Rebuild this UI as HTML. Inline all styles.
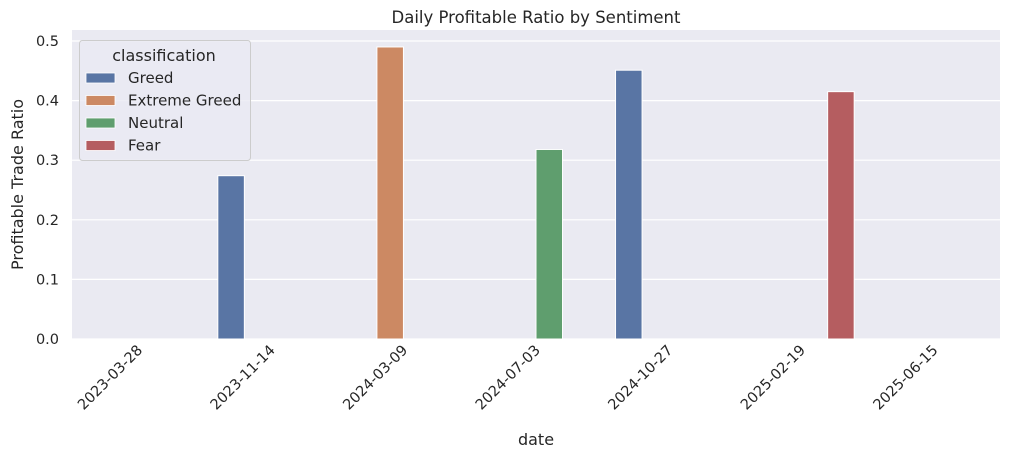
<!DOCTYPE html>
<html><head><meta charset="utf-8"><style>
body{margin:0;background:#fff;}
svg{font-family:"DejaVu Sans","Liberation Sans",sans-serif;}
</style></head><body>
<svg id="c" width="1011" height="460"></svg>
<script>
const categories=["2023-03-28","2023-11-14","2024-03-09","2024-07-03","2024-10-27","2025-02-19","2025-06-15"];
const hues=["Greed","Extreme Greed","Neutral","Fear"];
const colors=["#5975a4","#cc8963","#5f9e6e","#b55d60"];
const barCats=["2023-11-14","2024-03-09","2024-07-03","2024-10-27","2025-02-19"];
const barHues=["Greed","Extreme Greed","Neutral","Greed","Fear"];
const barValues=[0.274,0.490,0.318,0.451,0.415];
const yTicks=[0,0.1,0.2,0.3,0.4,0.5];
const NS="http://www.w3.org/2000/svg";
const svg=document.getElementById('c');
const L=72,R=1000,T=30,B=339,ymax=0.5,y50=41;
const step=(R-L)/categories.length;
function xc(c){return L+step*(categories.indexOf(c)+0.5);}
function y(v){return B-(B-y50)*v/ymax;}
function mk(t,a,txt){const e=document.createElementNS(NS,t);for(const k in a)e.setAttribute(k,a[k]);if(txt!=null)e.textContent=txt;svg.appendChild(e);return e;}
let e;
e=mk('rect',{x:L,y:T,width:R-L,height:B-T,fill:'#eaeaf2'});


yTicks.forEach(v=>{
 e=mk('line',{x1:L,x2:R,y1:y(v),y2:y(v),stroke:'#fff','stroke-width':1.2});
 
 
 e=mk('text',{x:L-13,y:y(v)+5,'text-anchor':'end','font-size':14.5,fill:'#262626'},v.toFixed(1));
 
 
});
categories.forEach(c=>{
 const x=xc(c);
 e=mk('text',{x:x+5,y:351,'text-anchor':'end','font-size':14.5,fill:'#262626',transform:`rotate(-45 ${x+5} 351)`},c);
 
 
});
const bw=step*0.8/hues.length;
barValues.forEach((v,i)=>{
 const h=hues.indexOf(barHues[i]);
 const cx=xc(barCats[i])+(h-1.5)*bw;
 e=mk('rect',{x:cx-bw/2,y:y(v),width:bw,height:B-y(v),fill:colors[h],stroke:'#fff','stroke-width':1});
 
 
});
e=mk('text',{x:(L+R)/2,y:23,'text-anchor':'middle','font-size':16.5,fill:'#262626'},'Daily Profitable Ratio by Sentiment');


e=mk('text',{x:(L+R)/2,y:445,'text-anchor':'middle','font-size':16,fill:'#262626'},'date');


e=mk('text',{x:23,y:(T+B)/2,'text-anchor':'middle','font-size':16,fill:'#262626',transform:`rotate(-90 23 ${(T+B)/2})`},'Profitable Trade Ratio');


e=mk('rect',{x:79.5,y:40.5,width:171,height:120,rx:3,fill:'#eaeaf2','fill-opacity':0.8,stroke:'#cccccc'});


e=mk('text',{x:164,y:61,'text-anchor':'middle','font-size':16,fill:'#262626'},'classification');


hues.forEach((h,i)=>{
 const yy=78+i*22.5;
 e=mk('rect',{x:86,y:yy-5,width:29,height:10,fill:colors[i],stroke:'#fff','stroke-width':0.8});
 
 
 e=mk('text',{x:128,y:yy+5,'font-size':15,fill:'#262626'},h);
 
 
});
</script>
</body></html>
